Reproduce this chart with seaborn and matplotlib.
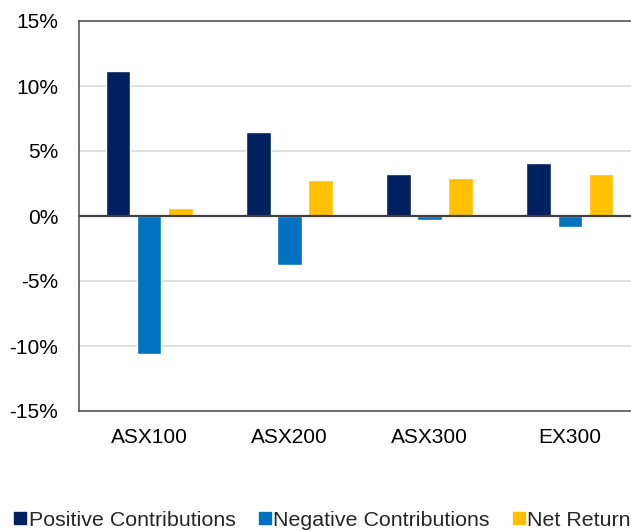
import matplotlib
matplotlib.use("Agg")
import matplotlib.pyplot as plt
from matplotlib.lines import Line2D
from matplotlib.ticker import MultipleLocator, FuncFormatter
import seaborn as sns
import pandas as pd

# Return decomposition by index (percent)
indices = ["ASX100", "ASX200", "ASX300", "EX300"]
positive = [11.15, 6.5, 3.2, 4.05]
negative = [-10.6, -3.8, -0.3, -0.85]
net_return = [0.65, 2.75, 2.95, 3.25]
series = ["Positive Contributions", "Negative Contributions", "Net Return"]
colors = ["#002060", "#0070C0", "#FFC000"]

df = pd.DataFrame({
    "index": indices * 3,
    "series": [series[0]] * 4 + [series[1]] * 4 + [series[2]] * 4,
    "value": positive + negative + net_return,
})

sns.set_style("white")
plt.rcParams["font.family"] = ["Liberation Sans", "DejaVu Sans"]

fig = plt.figure(figsize=(6.31, 5.31), dpi=100)
ax = fig.add_axes([79 / 631, 1 - 411 / 531, 561 / 631, 390 / 531])

sns.barplot(data=df, x="index", y="value", hue="series", hue_order=series,
            palette=colors, width=0.666, gap=0.21, saturation=1,
            ax=ax, legend=False)

ax.set_xlim(-0.5, 3.5)
ax.set_ylim(-15, 15)
ax.yaxis.set_major_locator(MultipleLocator(5))
ax.yaxis.set_major_formatter(FuncFormatter(lambda v, _: f"{v:.0f}%"))
ax.set_xlabel("")
ax.set_ylabel("")

ax.grid(axis="y", color="#D9D9D9", linewidth=1.2, zorder=0)
ax.set_axisbelow(True)
ax.axhline(0, color="#404040", linewidth=1.6, zorder=3)

for side in ["left", "top", "bottom"]:
    ax.spines[side].set_visible(True)
    ax.spines[side].set_color("#595959")
    ax.spines[side].set_linewidth(1.2)
ax.spines["right"].set_visible(False)

ax.tick_params(axis="y", length=0, pad=15, labelsize=15, labelcolor="#000000")
ax.tick_params(axis="x", length=0, pad=12, labelsize=15, labelcolor="#000000")

handles = [Line2D([], [], marker="s", linestyle="none", markersize=8,
                  markerfacecolor=c, markeredgecolor=c) for c in colors]
fig.legend(handles, series, loc="center", bbox_to_anchor=(0.51, 11 / 531),
           ncol=3, frameon=False, fontsize=15.4, handletextpad=0.05,
           columnspacing=1.0, handlelength=0.7, borderaxespad=0,
           borderpad=0)

fig.savefig("out.png", dpi=100)
